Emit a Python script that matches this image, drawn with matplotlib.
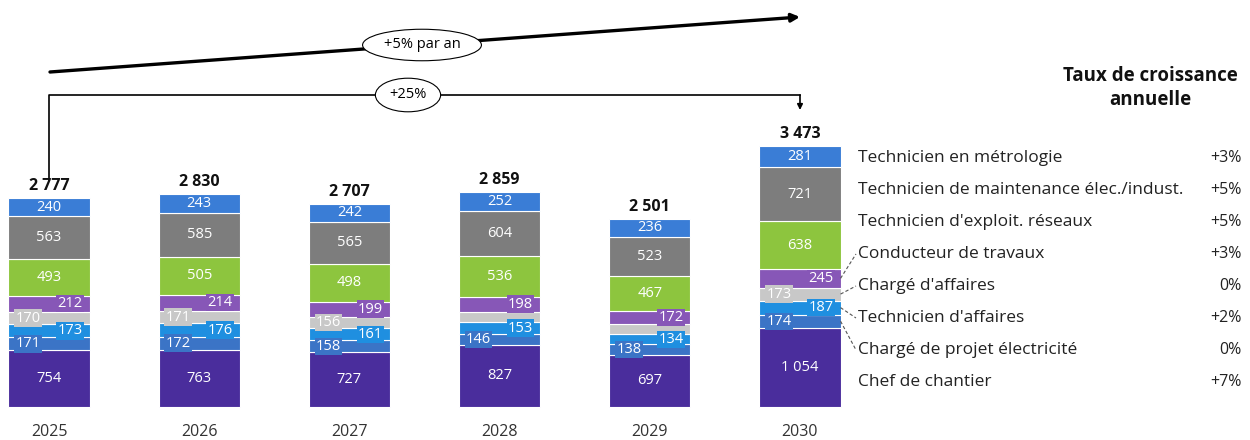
import matplotlib.pyplot as plt

plt.rcParams["font.family"] = ["Open Sans", "DejaVu Sans"]

YEARS = ["2025", "2026", "2027", "2028", "2029", "2030"]
TOTALS = [2777, 2830, 2707, 2859, 2501, 3473]

# series, bottom to top
SERIES = [
    "Chef de chantier",
    "Chargé de projet électricité",
    "Technicien d'affaires",
    "Chargé d'affaires",
    "Conducteur de travaux",
    "Technicien d'exploit. réseaux",
    "Technicien de maintenance élec./indust.",
    "Technicien en métrologie",
]
GROWTH = ["+7%", "0%", "+2%", "0%", "+3%", "+5%", "+5%", "+3%"]

chef = [754, 763, 727, 827, 697, 1054]
projet = [171, 172, 158, 146, 138, 174]
tech_aff = [173, 176, 161, 153, 134, 187]
charge_aff = [170, 171, 156, 143, 134, 173]
conducteur = [212, 214, 199, 198, 172, 245]
exploit = [493, 505, 498, 536, 467, 638]
maintenance = [563, 585, 565, 604, 523, 721]
metrologie = [240, 243, 242, 252, 236, 281]
VALUES = [chef, projet, tech_aff, charge_aff, conducteur, exploit, maintenance, metrologie]

# labels hidden where the original shows none
HIDDEN = {(3, 3), (3, 4)}

COLORS = ["#4a2d9c", "#3b74c6", "#1f8fe0", "#c8c8c8", "#8757b7", "#8dc53e", "#7d7d7d", "#3a7dd6"]
# label side offset for the thin segments
SIDE = [0, -0.14, 0.14, -0.14, 0.14, 0, 0, 0]

PX_X, X0 = 150.2, 49      # px per bar step, px of first bar centre
PX_Y, Y0 = 0.0752, 407    # px per unit, px of baseline (from top)


def px(x, y):
    return (x - X0) / PX_X, (Y0 - y) / PX_Y


fig = plt.figure(figsize=(12.5, 4.4), dpi=100)
ax = fig.add_axes([0, 0, 1, 1])
ax.set_xlim(px(0, 0)[0], px(1250, 0)[0])
ax.set_ylim(px(0, 440)[1], px(0, 0)[1])
ax.axis("off")

xs = list(range(len(YEARS)))
bottoms = [0] * len(YEARS)
for i, vals in enumerate(VALUES):
    ax.bar(xs, vals, bottom=bottoms, width=0.54, color=COLORS[i],
           edgecolor="white", linewidth=0.8)
    for j, v in enumerate(vals):
        if (i, j) in HIDDEN:
            continue
        yc = bottoms[j] + v / 2
        if SIDE[i]:
            ax.text(j + SIDE[i], yc, str(v), ha="center", va="center", color="white",
                    fontsize=10.5,
                    bbox=dict(boxstyle="square,pad=0.08", fc=COLORS[i], ec="none"))
        else:
            ax.text(j, yc, f"{v:,}".replace(",", " "), ha="center", va="center",
                    color="white", fontsize=10.5)
    bottoms = [b + v for b, v in zip(bottoms, vals)]

for j, t in enumerate(TOTALS):
    ax.text(j, t + 50, f"{t:,}".replace(",", " "), ha="center", va="bottom",
            fontsize=11.5, fontweight="bold", color="#111111")
    ax.text(j, px(0, 432)[1], YEARS[j], ha="center", va="center",
            fontsize=11.5, color="#333333")

# top growth arrow
ax.annotate("", xy=px(800, 17), xytext=px(50, 72),
            arrowprops=dict(arrowstyle="-|>", lw=2.4, color="black", mutation_scale=12,
                            shrinkA=0, shrinkB=0))
ax.text(*px(422, 45), "+5% par an", ha="center", va="center", fontsize=10.5,
        bbox=dict(boxstyle="ellipse,pad=0.25", fc="white", ec="black", lw=0.8))

# +25% bracket
xl, yb = px(49, 95)
xr, _ = px(800, 95)
ax.plot([xl, xl, xr], [px(0, 180)[1], yb, yb], color="black", lw=1.2)
ax.annotate("", xy=(xr, px(0, 110)[1]), xytext=(xr, yb),
            arrowprops=dict(arrowstyle="-|>", lw=1.2, color="black", mutation_scale=8,
                            shrinkA=0, shrinkB=0))
ax.text(*px(408, 95), "+25%", ha="center", va="center", fontsize=10.5,
        bbox=dict(boxstyle="ellipse,pad=0.3", fc="white", ec="black", lw=0.8))

# legend
ax.text(*px(1150, 88), "Taux de croissance\nannuelle", ha="center", va="center",
        fontsize=13.5, fontweight="bold", linespacing=1.25, color="#111111")
n = len(SERIES)
for k in range(n):
    i = n - 1 - k
    ly = 158 + k * 32
    ax.text(*px(858, ly), SERIES[i], ha="left", va="center", fontsize=12.5, color="#222222")
    ax.text(*px(1242, ly), GROWTH[i], ha="right", va="center", fontsize=11.5, color="#222222")
    if i in (1, 2, 3, 4):
        seg_mid = sum(v[5] for v in VALUES[:i]) + VALUES[i][5] / 2
        x_edge = 5 + 0.27
        ax.plot([x_edge, px(856, 0)[0]], [seg_mid, px(0, ly)[1]],
                color="#555555", lw=0.8, ls=(0, (3, 2)))

fig.savefig("out.png", dpi=100)
